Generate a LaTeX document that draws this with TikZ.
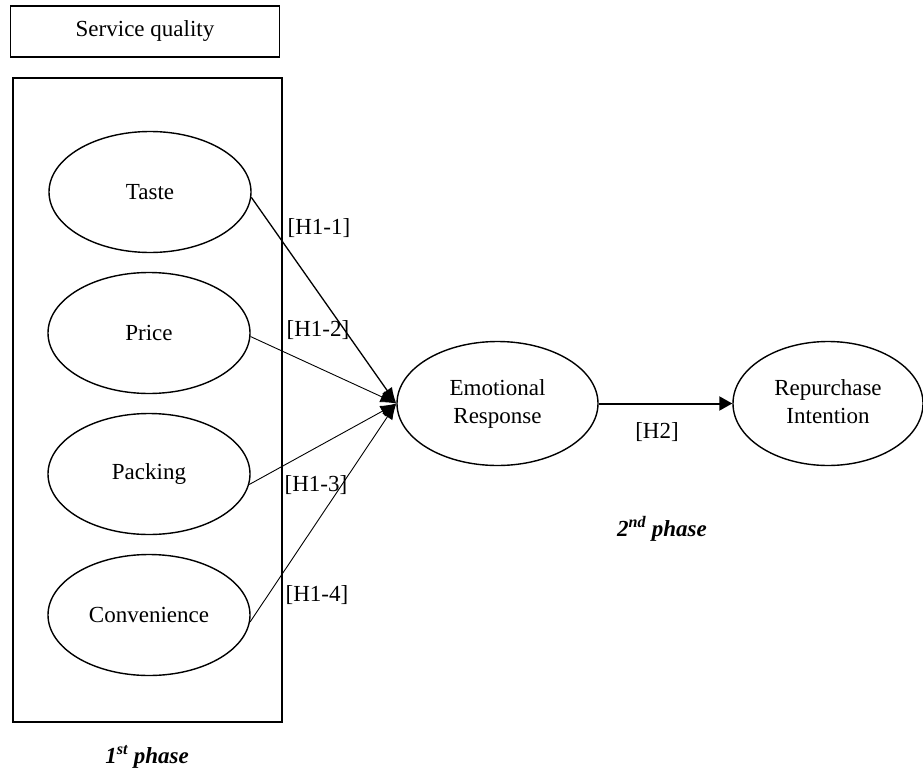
\documentclass[tikz,border=0pt]{standalone}
\usepackage{fontspec}
\setmainfont{Liberation Serif}
\usetikzlibrary{shapes.geometric,arrows.meta}
\newcommand{\twoline}[2]{\raisebox{-4pt}{\begin{tabular}{@{}c@{}}#1\\#2\end{tabular}}}
\begin{document}
\begin{tikzpicture}[x=1pt,y=-1pt,
  txt/.style={font=\fontsize{23}{28}\selectfont, inner sep=0pt, align=center},
  oval/.style={ellipse, draw, line width=1.4pt, minimum width=202pt, minimum height=121pt, inner sep=0pt, txt},
  box/.style={draw, line width=1.4pt},
  link/.style={line width=0.9pt, -{Latex[length=16pt,width=12pt]}},
  phase/.style={txt, font=\fontsize{23}{28}\selectfont\bfseries\itshape}]
\useasboundingbox (0,0) rectangle (923,776);
\fill[white] (0,0) rectangle (923,776);
% boxes
\node[box, minimum width=269pt, minimum height=51pt, inner sep=0pt, txt] (sq) at (145,31.5) {Service quality};
\node[box, minimum width=269pt, minimum height=644pt, inner sep=0pt] (frame) at (147.5,400) {};
% ellipses
\node[oval] (taste) at (150,192) {Taste};
\node[oval] (price) at (149,333) {Price};
\node[oval] (pack) at (149,474) {Packing};
\node[oval] (conv) at (149,615) {Convenience};
\node[oval, minimum width=201pt, minimum height=124pt] (emo) at (497.5,403.5) {\twoline{Emotional}{Response}};
\node[oval, minimum width=190pt, minimum height=124pt] (rep) at (828,403.5) {\twoline{Repurchase}{Intention}};
% links
\draw[link, line width=1.3pt] (taste.-3) -- (emo.west);
\draw[link] (price.-2) -- (emo.west);
\draw[link] (pack.-6) -- (emo.west);
\draw[link] (conv.-4) -- (emo.west);
\draw[line width=2pt, -{Triangle[length=13pt,width=14pt]}] (emo.east) -- (rep.west);
% labels
\node[txt] (h11) at (319,228) {[H1-1]};
\node[txt] (h12) at (318,330) {[H1-2]};
\node[txt] (h13) at (316,485) {[H1-3]};
\node[txt] (h14) at (317,595) {[H1-4]};
\node[txt] (h2) at (657,432) {[H2]};
\node[phase] (p2) at (662,529) {2\textsuperscript{nd} phase};
\node[phase] (p1) at (147,757) {1\textsuperscript{st} phase};
\end{tikzpicture}
\end{document}
